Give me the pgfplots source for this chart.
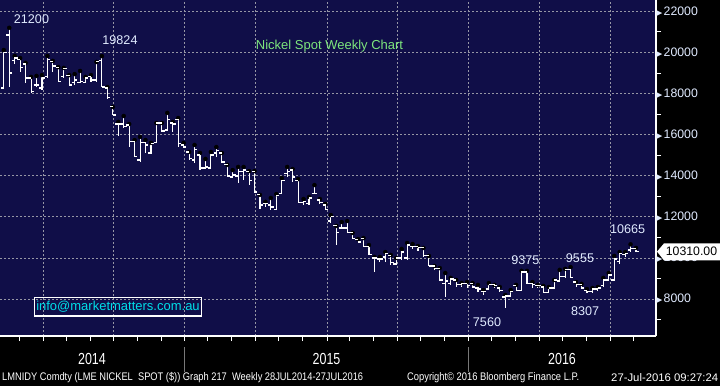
\documentclass[border=0pt]{standalone}
\usepackage{pgfplots}
\pgfplotsset{compat=1.18}
\usepackage{pgfplotstable}
\usepackage{graphicx}
\usepackage{fontspec}
\setmainfont{Liberation Sans}
\newfontfamily\dejavu{DejaVu Sans}

\definecolor{navy}{RGB}{16,14,72}
\definecolor{gridc}{RGB}{150,150,165}
\definecolor{annot}{RGB}{225,235,255}
\definecolor{titleg}{RGB}{125,230,125}
\definecolor{mailc}{RGB}{0,222,232}
\definecolor{sepc}{RGB}{120,120,120}

\pgfdeclareplotmark{otick}{\pgfpathmoveto{\pgfqpoint{-2.8pt}{0pt}}\pgfpathlineto{\pgfqpoint{0.3pt}{0pt}}\pgfusepathqstroke}
\pgfdeclareplotmark{ctick}{\pgfpathmoveto{\pgfqpoint{-0.3pt}{0pt}}\pgfpathlineto{\pgfqpoint{2.8pt}{0pt}}\pgfusepathqstroke}

\newcommand{\tri}{{\dejavu\fontsize{7.5}{8}\selectfont ▶}\hspace{1.2pt}}

\pgfplotstableread{
i o h l c
0 18270 20120 18270 20020
1 20850 21200 18320 19000
2 19630 19830 19440 19730
3 19680 19730 19050 19250
4 19440 19490 18520 18760
5 18760 18810 18030 18080
6 18420 18860 18320 18420
7 18270 18900 18180 18760
8 18810 19830 18760 19680
9 19540 19590 19050 19340
10 19290 19290 18560 18610
11 18810 19250 18760 19200
12 18860 18900 18370 18420
13 18520 18950 18420 18660
14 18560 19100 18520 18610
15 18560 18810 18520 18760
16 18810 18900 18560 18660
17 18660 19540 18560 19540
18 19630 19824 18320 18320
19 18270 18320 17740 17790
20 17350 17350 16960 16960
21 16520 16620 15940 16520
22 16520 16910 16330 16420
23 16470 16520 15400 15690
24 15690 15740 14910 14960
25 14770 15890 14670 15640
26 15600 15740 15110 15500
27 15110 15600 15060 15550
28 15600 16570 15600 16570
29 16570 16570 16130 16180
30 16230 17060 16230 16720
31 16570 16620 16130 16520
32 16760 16810 15400 15550
33 15500 15600 15350 15400
34 15160 15160 14770 14820
35 14770 15500 14620 15260
36 15010 15110 14280 14380
37 14380 14820 14380 14430
38 14380 15160 14380 15010
39 15110 15400 14910 15210
40 15110 15110 14620 14670
41 14530 14530 13940 13990
42 13940 14280 13940 14040
43 13990 14430 13650 14190
44 14230 14430 13800 14280
45 14230 14230 13550 13750
46 14190 14230 13160 13210
47 13070 13070 12380 12580
48 12630 12730 12480 12630
49 12580 12920 12340 12480
50 12380 13110 12380 13020
51 13160 13890 13160 13750
52 14090 14430 13940 14190
53 14280 14330 13700 13940
54 13750 13840 12680 12680
55 12680 12870 12580 12730
56 12630 12970 12580 12920
57 13160 13550 13110 13160
58 12820 12870 12630 12680
59 12580 12630 12340 12380
60 11800 12090 11700 12040
61 11560 11560 10630 11220
62 11460 11750 11410 11460
63 11460 11800 11220 11220
64 11220 11220 10920 10970
65 10880 10920 10730 10780
66 10970 10970 10540 10540
67 10540 10630 10150 10150
68 10000 10050 9320 10000
69 9950 10050 9810 9950
70 10050 10290 9810 10200
71 10100 10150 9660 9760
72 9710 10000 9660 10000
73 10000 10440 9900 10290
74 10000 10730 9900 10630
75 10580 10680 10440 10540
76 10540 10580 10340 10490
77 10490 10490 10050 10100
78 10100 10100 9610 9610
79 9610 9610 9420 9510
80 9510 9510 8880 8930
81 8740 9270 8100 8880
82 8780 9030 8690 8980
83 8930 8930 8590 8690
84 8690 8780 8590 8740
85 8740 8830 8540 8640
86 8740 8780 8540 8590
87 8540 8690 8350 8490
88 8350 8440 8200 8350
89 8490 8780 8440 8690
90 8690 8690 8540 8640
91 8540 8590 8350 8400
92 8100 8200 7560 8150
93 8150 8440 8100 8350
94 8640 8690 8400 8440
95 8440 9375 8400 9320
96 9320 9370 8740 8780
97 8780 8830 8540 8690
98 8640 8690 8540 8640
99 8590 8640 8300 8300
100 8300 8590 8300 8540
101 8540 8930 8540 8930
102 8880 9420 8880 9120
103 9080 9470 9030 9420
104 9420 9555 9030 9030
105 8830 8830 8590 8690
106 8690 8740 8490 8540
107 8440 8490 8307 8350
108 8350 8540 8300 8490
109 8490 8590 8400 8540
110 8640 9030 8590 8930
111 8930 9270 8880 9170
112 8930 10100 8880 9950
113 9810 10290 9710 10200
114 10150 10290 10050 10240
115 10390 10665 10290 10440
116 10440 10490 10290 10310
}\ohlc

\begin{document}
\begin{tikzpicture}[x=1pt,y=1pt]
\path[use as bounding box] (0,-50) rectangle (720,336);
\fill[black] (0,-50) rectangle (720,336);
\begin{axis}[
  at={(0pt,0pt)}, anchor=south west,
  scale only axis, width=656pt, height=336pt,
  xmin=0, xmax=656, ymin=6204, ymax=22554,
  axis background/.style={fill=navy},
  axis x line*=bottom, axis y line*=right,
  axis line style={white, line width=1.5pt},
  xtick={43,113,184,255,327,397,468,539,610},
  xticklabels={},
  minor xtick={19.4,66.7,90.4,137.7,161.4,207.7,231.4,278.7,302.4,349.7,373.4,420.7,444.4,491.7,515.4,562.7,586.4,633.7},
  ytick={8000,10000,12000,14000,16000,18000,20000,22000},
  yticklabels={{\tri8000},{\tri10000},{\tri12000},{\tri14000},{\tri16000},{\tri18000},{\tri20000},{\tri22000}},
  minor ytick={7000,9000,11000,13000,15000,17000,19000,21000},
  tick align=outside,
  major tick length=5pt, minor tick length=5pt,
  every major y tick/.style={draw=none},
  every tick/.style={white, line width=1pt},
  yticklabel style={text=annot, font=\fontsize{12.3}{14}\selectfont, inner sep=0pt, xshift=-4.5pt, anchor=west},
  xmajorgrids, ymajorgrids,
  major grid style={gridc, line width=0.8pt, dash pattern=on 2pt off 2pt},
  clip=true,
]
\addplot[only marks, mark=none, error bars/.cd, y dir=minus, y explicit, error mark=none,
  error bar style={white, line width=1.1pt}]
  table[x expr=3.8+5.45*\thisrow{i}, y=h, y error minus expr=\thisrow{h}-\thisrow{l}] {\ohlc};
\addplot[white, only marks, mark=otick, line width=1.1pt]
  table[x expr=3.8+5.45*\thisrow{i}, y=o] {\ohlc};
\addplot[white, only marks, mark=ctick, line width=1.1pt]
  table[x expr=3.8+5.45*\thisrow{i}, y=c] {\ohlc};
\end{axis}

% annotations
\begin{scope}[every node/.style={inner sep=0pt, font=\fontsize{12.6}{14}\selectfont, text=annot}]
\node at (31.5,317) {21200};
\node at (120,296) {19824};
\node at (525.3,76) {9375};
\node at (580,78.3) {9555};
\node at (627.7,107) {10665};
\node at (487,14.3) {7560};
\node at (585.2,25.3) {8307};
\end{scope}
\node[inner sep=0pt, text=titleg, font=\fontsize{13}{15}\selectfont] at (329.5,290) {Nickel Spot Weekly Chart};
\draw[white, line width=1.2pt] (34.3,20) rectangle (201.7,38.7);
\node[inner sep=0pt, text=mailc, font=\fontsize{13}{15}\selectfont] at (118,29.4) {info@marketmatters.com.au};

% last price flag
\fill[white] (657,84.4) -- (664,92.6) -- (720,92.6) -- (720,75.6) -- (664,75.6) -- cycle;
\node[inner sep=0pt, text=black, font=\fontsize{12.3}{14}\selectfont] at (691.5,84.4) {10310.00};

% year labels and separators
\draw[sepc, line width=0.8pt] (184,-11) -- (184,-36);
\draw[sepc, line width=0.8pt] (468,-11) -- (468,-36);
\begin{scope}[every node/.style={inner sep=0pt, text=white}]
\node at (92,-23) {\scalebox{0.78}[1]{\fontsize{16}{18}\selectfont 2014}};
\node at (326.5,-23) {\scalebox{0.78}[1]{\fontsize{16}{18}\selectfont 2015}};
\node at (562,-23) {\scalebox{0.78}[1]{\fontsize{16}{18}\selectfont 2016}};
\node[anchor=west] at (2,-42) {\resizebox{361pt}{\height}{\fontsize{11}{12}\selectfont LMNIDY Comdty (LME NICKEL\ \ SPOT (\$)) Graph 217\ \ Weekly 28JUL2014-27JUL2016}};
\node[anchor=west] at (407,-42) {\resizebox{172pt}{\height}{\fontsize{11}{12}\selectfont Copyright© 2016 Bloomberg Finance L.P.}};
\node[anchor=west] at (611,-42) {\resizebox{107pt}{\height}{\fontsize{11}{12}\selectfont 27-Jul-2016 09:27:24}};
\end{scope}
\end{tikzpicture}
\end{document}
